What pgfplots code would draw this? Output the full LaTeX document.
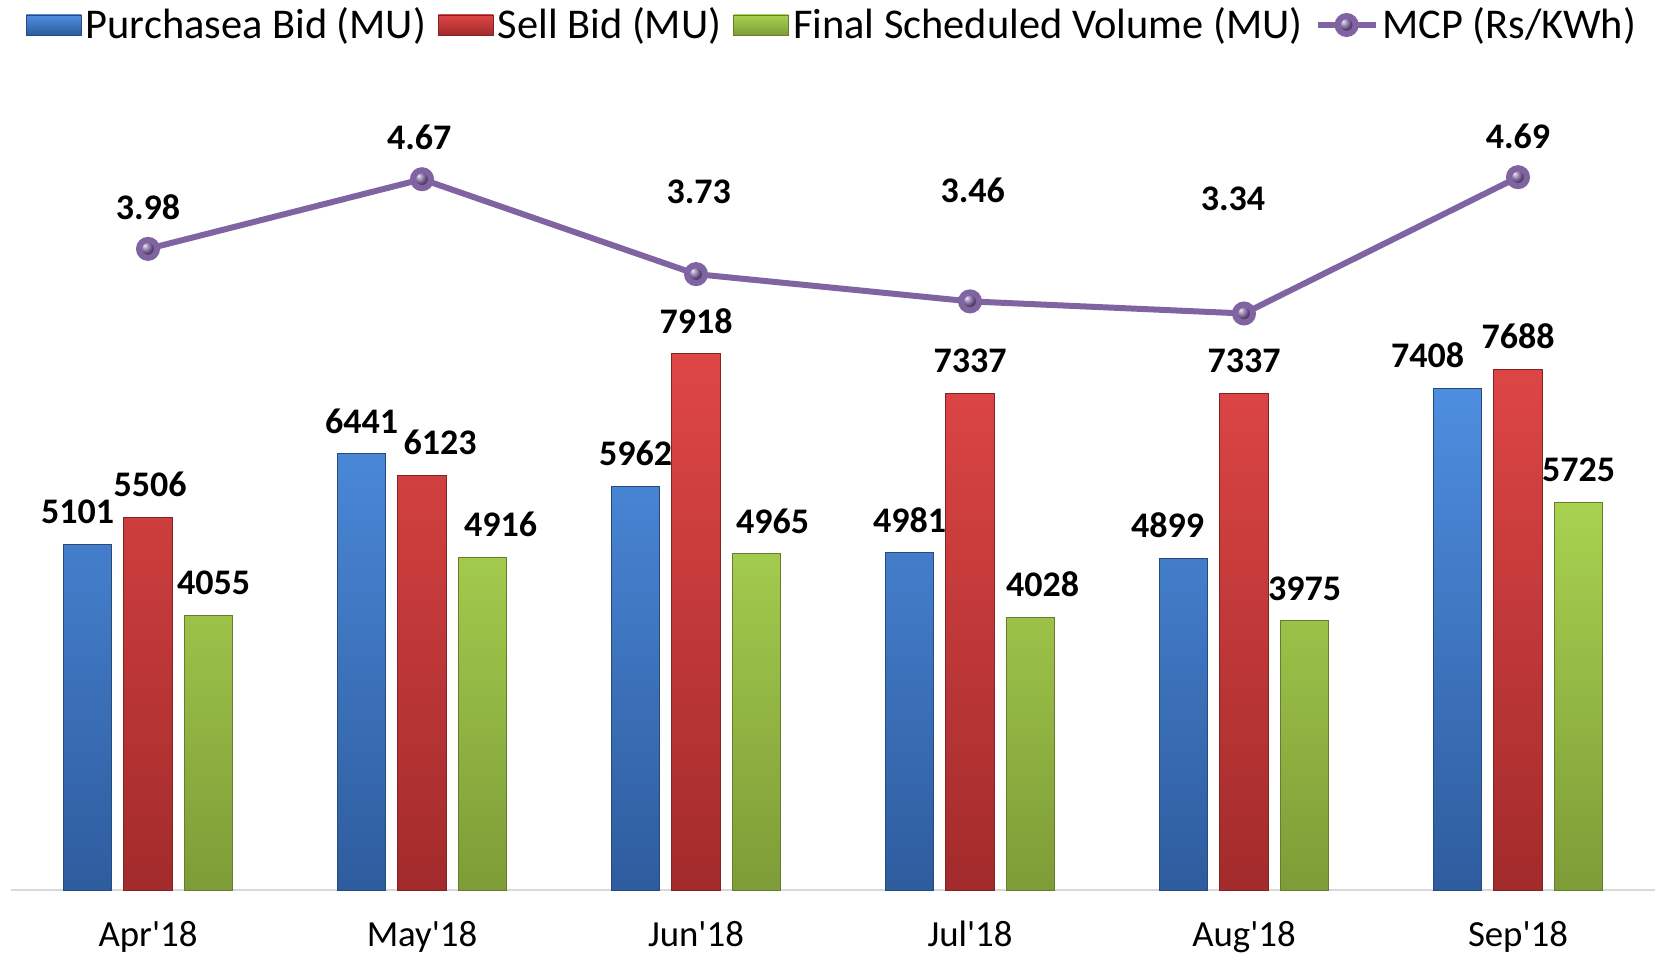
\documentclass[border=0pt]{standalone}
\usepackage{pgfplots}
\pgfplotsset{compat=1.18}
\usepackage{pgfplotstable}
\usepackage{fontspec}
\setmainfont{Carlito}[Ligatures=TeXOff]
\definecolor{bluetop}{RGB}{78,142,224}
\definecolor{bluebot}{RGB}{46,92,158}
\definecolor{redtop}{RGB}{223,70,70}
\definecolor{redbot}{RGB}{163,43,43}
\definecolor{greentop}{RGB}{168,210,80}
\definecolor{greenbot}{RGB}{126,156,55}
\definecolor{mcp}{RGB}{128,100,162}

\pgfplotsset{
  boxlegend/.style={legend image code/.code={\draw[##1] (0pt,-5pt) rectangle (27.5pt,5pt);}},
  linelegend/.style={legend image code/.code={\draw[mark repeat=2,mark phase=2,##1] plot coordinates {(0pt,0pt) (14.5pt,0pt) (29pt,0pt)};}},
}

\pgfplotstableread{
x pb pbdx sb sbdx fs fsdx mcp lx ly
0 5101 -5 5506 1 4055 2.5 3.98 0 4.395
1 6441 0 6123 9 4916 9 4.67 0.99 5.088
2 5962 0 7918 0 4965 8 3.73 2.01 4.543
3 4981 0 7337 0 4028 6 3.46 3.01 4.563
4 4899 -8 7337 0 3975 0 3.34 3.96 4.474
5 7408 -15 7688 0 5725 0 4.69 5 5.098
}\datatable

\begin{document}
\begin{tikzpicture}
\useasboundingbox (0,0) rectangle (828pt,478.5pt);
\begin{axis}[
 at={(5.5pt,33.5pt)}, anchor=south west,
 scale only axis, width=822pt, height=410pt,
 xmin=-0.5, xmax=5.5, ymin=0, ymax=12111,
 axis x line=bottom, axis y line=none,
 x axis line style={-, draw=black!15, line width=1pt},
 xtick=data, xticklabels={Apr'18,May'18,Jun'18,Jul'18,Aug'18,Sep'18},
 major tick length=0pt,
 xticklabel style={font=\fontsize{18.4}{20}\selectfont, anchor=base, yshift=-28.5pt},
 ytick=\empty,
 clip=false,
 nodes near coords style={font=\fontsize{18}{20}\selectfont\bfseries, anchor=south, inner sep=0pt, yshift=10pt},
 legend columns=4,
 legend style={at={(0.5,1)}, anchor=center, yshift=22.5pt, draw=none, fill=none,
   font=\fontsize{21.2}{24}\selectfont, inner sep=0pt, nodes={inner xsep=2pt, inner ysep=1pt},
   /tikz/every even column/.append style={column sep=4pt}},
]
\addplot[ybar, bar width=24.25pt, bar shift=-30.25pt, top color=bluetop, bottom color=bluebot,
  draw=bluebot!80!black, line width=0.4pt,
  nodes near coords, point meta=explicit symbolic, visualization depends on={\thisrow{pbdx}\as\dx},
  nodes near coords style={xshift={\dx pt-30.25pt}}, boxlegend]
  table[x=x,y=pb,meta=pb]{\datatable};
\addlegendentry{Purchasea Bid (MU)}
\addplot[ybar, bar width=24.25pt, bar shift=0pt, top color=redtop, bottom color=redbot,
  draw=redbot!80!black, line width=0.4pt,
  nodes near coords, point meta=explicit symbolic, visualization depends on={\thisrow{sbdx}\as\dx},
  nodes near coords style={xshift={\dx pt}}, boxlegend]
  table[x=x,y=sb,meta=sb]{\datatable};
\addlegendentry{Sell Bid (MU)}
\addplot[ybar, bar width=24.25pt, bar shift=30.25pt, top color=greentop, bottom color=greenbot,
  draw=greenbot!80!black, line width=0.4pt,
  nodes near coords, point meta=explicit symbolic, visualization depends on={\thisrow{fsdx}\as\dx},
  nodes near coords style={xshift={\dx pt+30.25pt}}, boxlegend]
  table[x=x,y=fs,meta=fs]{\datatable};
\addlegendentry{Final Scheduled Volume (MU)}
\addlegendimage{mcp, line width=3pt, mark=ball, mark size=4.5pt, mark options={ball color=mcp}, linelegend}
\addlegendentry{MCP (Rs/KWh)}
\end{axis}
\begin{axis}[
 at={(5.5pt,33.5pt)}, anchor=south west,
 scale only axis, width=822pt, height=410pt,
 xmin=-0.5, xmax=5.5, ymin=-2.370, ymax=5.752,
 hide axis, clip=false,
]
\addplot[mcp, line width=3pt, mark=ball, mark size=4.5pt, mark options={ball color=mcp}]
  table[x=x,y=mcp]{\datatable};
\addplot[draw=none, mark=none, nodes near coords, point meta=explicit symbolic,
  nodes near coords style={anchor=center, inner sep=0pt, font=\fontsize{18}{20}\selectfont\bfseries}]
  table[x=lx,y=ly,meta=mcp]{\datatable};
\end{axis}
\end{tikzpicture}
\end{document}
